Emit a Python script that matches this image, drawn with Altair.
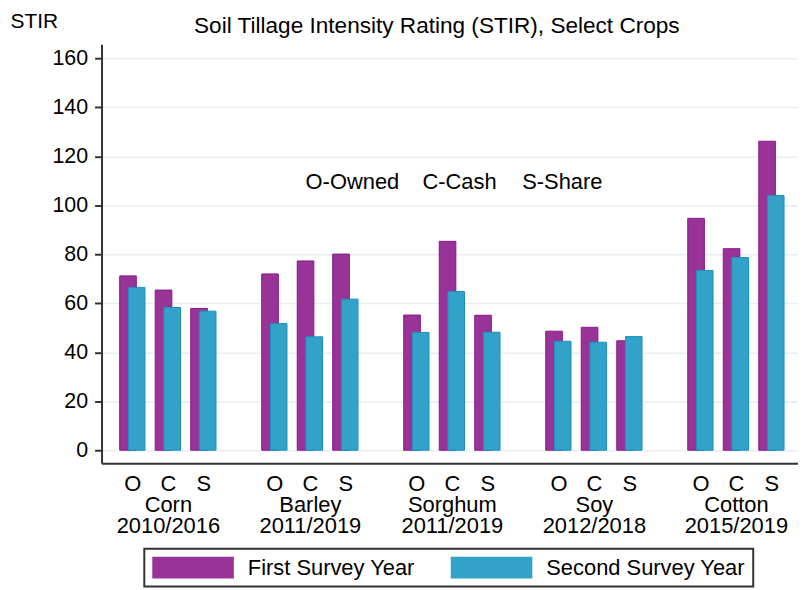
import json
import altair as alt
import pandas as pd

# ---------------- data ----------------
crops = ["Corn", "Barley", "Sorghum", "Soy", "Cotton"]
years = ["2010/2016", "2011/2019", "2011/2019", "2012/2018", "2015/2019"]
tenure = ["O", "C", "S"]
series = ["First Survey Year", "Second Survey Year"]
first_year = [71.2, 65.4, 57.9, 72.0, 77.3, 80.1, 55.2, 85.3, 55.1,
              48.6, 50.2, 44.7, 94.7, 82.3, 126.2]
second_year = [66.5, 58.3, 56.8, 51.7, 46.3, 61.7, 48.1, 64.8, 48.2,
               44.5, 44.1, 46.4, 73.4, 78.7, 104.0]
y_ticks = [0, 20, 40, 60, 80, 100, 120, 140, 160]
key_labels = ["O-Owned", "C-Cash", "S-Share"]
key_x = [4.88, 8.17, 10.98]
key_y = 109.4

PURPLE = "#9a3397"
PURPLE_EDGE = "#86178a"
BLUE = "#33a2c9"
BLUE_EDGE = "#1a8fbf"
FONT = "Liberation Sans"

rows = []
slot_labels = []
positions = []
for g, crop in enumerate(crops):
    for t, ten in enumerate(tenure):
        pos = g * 4 + t
        positions.append(pos)
        i = g * 3 + t
        rows.append({"pos": pos, "value": first_year[i], "survey": series[0]})
        rows.append({"pos": pos, "value": second_year[i], "survey": series[1]})
    slot_labels += ["O", ["C", crop, years[g]], "S", ""]
slot_labels = slot_labels[:-1]
df = pd.DataFrame(rows)
key_df = pd.DataFrame({"label": key_labels, "x": key_x, "y": [key_y] * 3})

# ---------------- scales / axes ----------------
xscale = alt.Scale(domain=[-0.728, 18.609], nice=False, zero=False)
yscale = alt.Scale(domain=[-5.3, 165.8], nice=False, zero=False)

xaxis = alt.Axis(values=positions, labelExpr=json.dumps(slot_labels) + "[datum.value]",
                 ticks=False, grid=False, domainColor="#333333", domainWidth=2,
                 labelFontSize=22, labelPadding=10, labelLineHeight=21.5,
                 labelBaseline="top", labelColor="black", labelFont=FONT,
                 labelFlush=False, labelOverlap=False, title=None)
yaxis = alt.Axis(values=y_ticks, grid=True, gridColor="#e6eef1", gridWidth=1.5,
                 domainColor="#333333", domainWidth=2, tickColor="#333333",
                 tickWidth=2, tickSize=7, labelFontSize=21.5, labelPadding=7,
                 labelColor="black", labelFont=FONT,
                 title="STIR", titleAngle=0, titleX=-92, titleY=-17,
                 titleAlign="left", titleBaseline="alphabetic", titleFontSize=21,
                 titleFontWeight="normal", titleColor="black", titleFont=FONT)

legend = alt.Legend(title=None, orient="none", legendX=43, legendY=507,
                    direction="horizontal", columns=2,
                    symbolType="M-1,-1L6.4545,-1L6.4545,1L-1,1Z",
                    symbolSize=484, symbolStrokeWidth=0, symbolOpacity=1,
                    labelFontSize=22, labelFont=FONT, labelColor="black",
                    labelOffset=74, labelLimit=400, columnPadding=36, padding=8,
                    strokeColor="#333333", fillColor="white")
color = alt.Color("survey:N", scale=alt.Scale(domain=series, range=[PURPLE, BLUE]),
                  legend=legend)

base = alt.Chart(df)
enc = dict(x=alt.X("pos:Q", scale=xscale, axis=xaxis),
           y=alt.Y("value:Q", scale=yscale, axis=yaxis),
           y2=alt.datum(0), color=color)

first = base.transform_filter(alt.datum.survey == series[0]).mark_bar(
    size=16.7, xOffset=-4.35, stroke=PURPLE_EDGE, strokeWidth=1, opacity=1
).encode(**enc)
second = base.transform_filter(alt.datum.survey == series[1]).mark_bar(
    size=16.7, xOffset=4.35, stroke=BLUE_EDGE, strokeWidth=1, opacity=1
).encode(**enc)

key = alt.Chart(key_df).mark_text(align="left", baseline="middle", fontSize=22,
                                   font=FONT, color="black").encode(
    x=alt.X("x:Q", scale=xscale, axis=xaxis),
    y=alt.Y("y:Q", scale=yscale, axis=yaxis),
    text="label:N")

chart = alt.layer(first, second, key).properties(
    width=700, height=421,
    autosize=alt.AutoSizeParams(type="none"),
    padding={"left": 94, "top": 35, "right": 0, "bottom": 125},
    title=alt.TitleParams("Soil Tillage Intensity Rating (STIR), Select Crops",
                          fontSize=22.7, font=FONT, fontWeight="normal", color="black",
                          anchor="middle", frame="group", dx=-13, dy=45, offset=0,
                          baseline="alphabetic"),
).configure(font=FONT, background="white").configure_view(stroke=None).configure_legend(strokeWidth=2)

chart.save("out.html", embed_options={"renderer": "svg", "actions": False})
